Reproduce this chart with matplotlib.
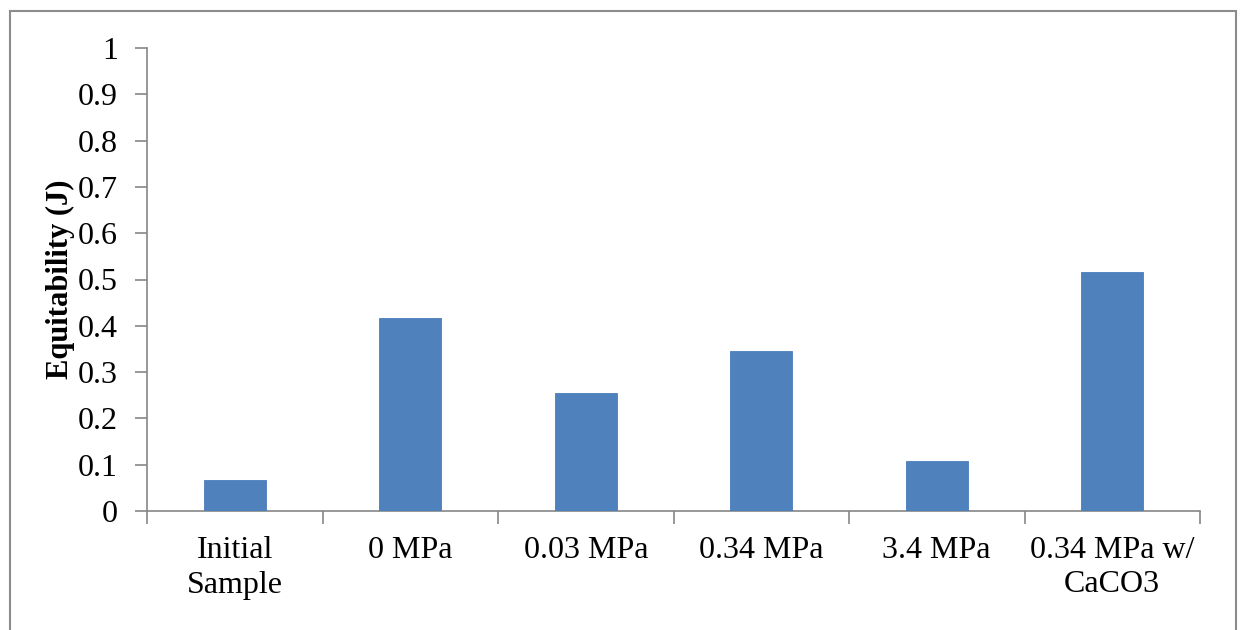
import numpy as np
import matplotlib
matplotlib.use("Agg")
from matplotlib import pyplot as plt
from matplotlib.patches import Rectangle

# values
categories = ["Initial\nSample", "0 MPa", "0.03 MPa", "0.34 MPa", "3.4 MPa", "0.34 MPa w/\nCaCO3"]
equitability = [0.067, 0.416, 0.254, 0.346, 0.108, 0.516]
y_ticks = [0, 0.1, 0.2, 0.3, 0.4, 0.5, 0.6, 0.7, 0.8, 0.9, 1]
y_tick_labels = ["0", "0.1", "0.2", "0.3", "0.4", "0.5", "0.6", "0.7", "0.8", "0.9", "1"]

plt.rcParams['font.family'] = ['Liberation Serif', 'DejaVu Serif']

fig = plt.figure(figsize=(12.46, 6.3), dpi=100)
ax = fig.add_axes([147/1246, 1-511/630, (1200-147)/1246, (511-48)/630])

# outer chart frame like the Excel chart area
fig.patches.append(Rectangle((10/1246, -0.05), (1236-10)/1246, 1-11/630+0.05,
                             transform=fig.transFigure, fill=False,
                             edgecolor='#8c8c8c', linewidth=1.5))

x = np.arange(len(categories))
ax.bar(x, equitability, width=0.353, color='#4f81bd', edgecolor='#4a7ebb', linewidth=0.6, zorder=3)

ax.set_xlim(-0.5, len(categories) - 0.5)
ax.set_ylim(0, 1)
ax.set_yticks(y_ticks)
ax.set_yticklabels(y_tick_labels)
ax.set_xticks(x)
ax.set_xticklabels(categories, linespacing=1.25)
ax.set_xticks(np.arange(-0.5, len(categories)), minor=True)

axis_grey = '#868686'
for side in ['top', 'right']:
    ax.spines[side].set_visible(False)
for side in ['left', 'bottom']:
    ax.spines[side].set_color(axis_grey)
    ax.spines[side].set_linewidth(1.2)

ax.tick_params(axis='y', direction='out', length=9, width=1.2, color=axis_grey,
               labelsize=23, pad=12)
ax.tick_params(axis='x', which='major', length=0, labelsize=23, pad=18)
ax.tick_params(axis='x', which='minor', direction='out', length=9, width=1.2, color=axis_grey)

ax.set_ylabel("Equitability (J)", fontsize=22, fontweight='bold', labelpad=2)

fig.savefig("out.png", dpi=100)
